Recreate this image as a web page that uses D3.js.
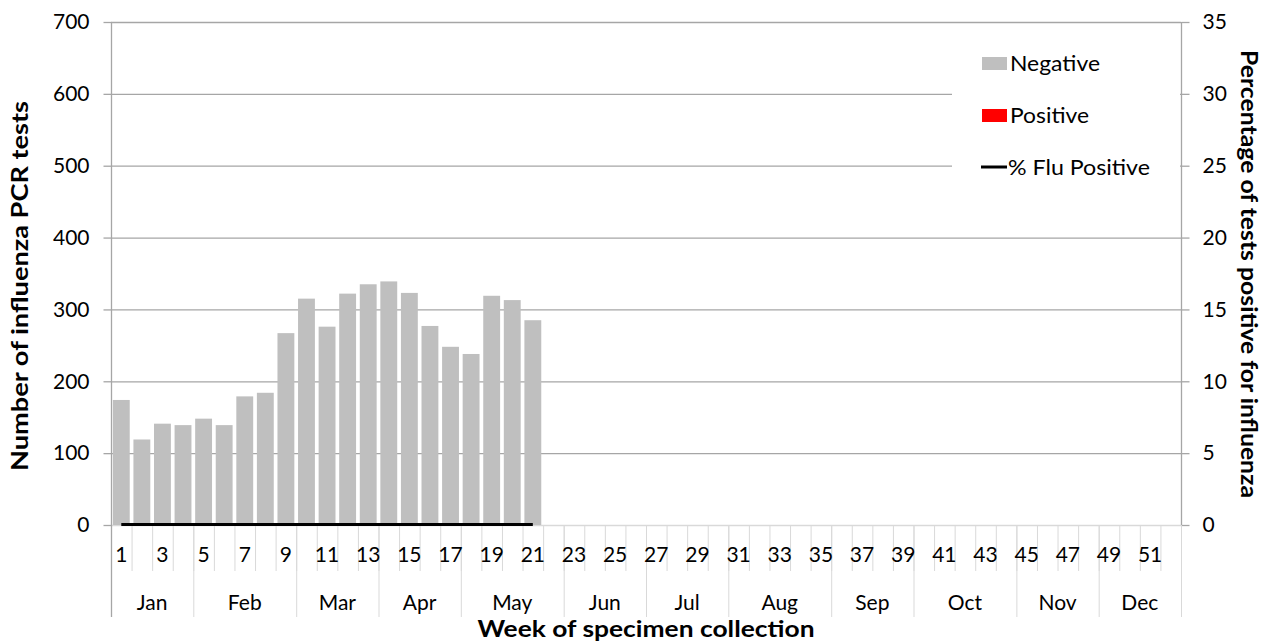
<!DOCTYPE html>
<html>
<head>
<meta charset="utf-8">
<script src="https://cdn.jsdelivr.net/npm/d3@7"></script>
<style>
  html, body { margin: 0; padding: 0; background: #fff; }
  svg { display: block; }
  text { font-family: Lato, "Open Sans", sans-serif; fill: #000; }
</style>
</head>
<body>
<svg id="chart" width="1268" height="641"></svg>
<script>
// ---- data ----
const weeks = d3.range(1, 53);
const negative = [174, 119, 141, 139, 148, 139, 179, 184, 267, 315, 276, 322, 335, 339, 323, 277, 248, 238, 319, 313, 285];
const positive = [0, 0, 0, 0, 0, 0, 0, 0, 0, 0, 0, 0, 0, 0, 0, 0, 0, 0, 0, 0, 0];
const pctPositive = [0, 0, 0, 0, 0, 0, 0, 0, 0, 0, 0, 0, 0, 0, 0, 0, 0, 0, 0, 0, 0];
const weekLabels = weeks.filter(w => w % 2 === 1);
const monthNames = ["Jan","Feb","Mar","Apr","May","Jun","Jul","Aug","Sep","Oct","Nov","Dec"];
const monthStartWeeks = [1, 5, 10, 14, 18, 23, 27, 31, 36, 40, 45, 49];
const leftTicks = [0, 100, 200, 300, 400, 500, 600, 700];
const rightTicks = [0, 5, 10, 15, 20, 25, 30, 35];

// ---- layout ----
const L = 111, R = 1181, T = 22, B = 525;
const svg = d3.select("#chart");
const gridColor = "#a6a6a6", axisColor = "#a6a6a6", lightColor = "#d9d9d9";
const FS = 21;

const x = d3.scaleBand().domain(weeks).range([L, R]).padding(0);
const xBar = d3.scaleBand().domain(weeks).range([L, R]).paddingInner(0.18).paddingOuter(0.09);
const y = d3.scaleLinear().domain([0, 700]).range([B, T]);
const y2 = d3.scaleLinear().domain([0, 35]).range([B, T]);

// gridlines
svg.append("g").selectAll("line").data(leftTicks.filter(d => d > 0)).join("line")
  .attr("x1", L).attr("x2", R)
  .attr("y1", d => y(d) + 0.5).attr("y2", d => y(d) + 0.5)
  .attr("stroke", gridColor).attr("stroke-width", 1.3);

// week separators
const bottomRows = svg.append("g");
bottomRows.selectAll("line.wk").data(weeks.slice(1)).join("line").attr("class", "wk")
  .attr("x1", d => x(d) + 0.5).attr("x2", d => x(d) + 0.5)
  .attr("y1", B).attr("y2", 571)
  .attr("stroke", lightColor).attr("stroke-width", 1);
// month separators
const monthBounds = monthStartWeeks.concat([53]);
bottomRows.selectAll("line.mo").data(monthBounds).join("line").attr("class", "mo")
  .attr("x1", d => (d === 53 ? R : x(d)) + 0.5).attr("x2", d => (d === 53 ? R : x(d)) + 0.5)
  .attr("y1", B).attr("y2", 617)
  .attr("stroke", lightColor).attr("stroke-width", 1);
// x baseline
svg.append("line").attr("x1", L).attr("x2", R).attr("y1", B + 0.5).attr("y2", B + 0.5)
  .attr("stroke", lightColor).attr("stroke-width", 1.3);

// bars
const barData = negative.map((v, i) => ({ week: weeks[i], neg: v, pos: positive[i] }));
svg.append("g").selectAll("rect.neg").data(barData).join("rect").attr("class", "neg")
  .attr("x", d => xBar(d.week))
  .attr("width", xBar.bandwidth())
  .attr("y", d => y(d.neg + d.pos))
  .attr("height", d => y(d.pos) - y(d.neg + d.pos))
  .attr("fill", "#bfbfbf");
svg.append("g").selectAll("rect.pos").data(barData.filter(d => d.pos > 0)).join("rect").attr("class", "pos")
  .attr("x", d => xBar(d.week))
  .attr("width", xBar.bandwidth())
  .attr("y", d => y(d.pos))
  .attr("height", d => y(0) - y(d.pos))
  .attr("fill", "#ff0000");

// % positive line
const lineData = pctPositive.map((v, i) => ({ week: weeks[i], v }));
svg.append("path").datum(lineData)
  .attr("d", d3.line().x(d => x(d.week) + x.bandwidth() / 2).y(d => y2(d.v) - 0.5))
  .attr("fill", "none").attr("stroke", "#000").attr("stroke-width", 3);

// left axis
const gL = svg.append("g").attr("transform", `translate(${L + 0.5},0)`)
  .call(d3.axisLeft(y).tickValues(leftTicks).tickSize(8).tickPadding(14).tickFormat(d3.format("d")));
gL.select(".domain").remove();
gL.selectAll(".tick line").attr("stroke", axisColor).attr("stroke-width", 1.3);
gL.selectAll("text").attr("font-size", FS).attr("font-family", "Lato, sans-serif").attr("fill", "#000");
svg.append("line").attr("x1", L + 0.5).attr("x2", L + 0.5).attr("y1", T).attr("y2", 617)
  .attr("stroke", axisColor).attr("stroke-width", 1.3);

// right axis
const gR = svg.append("g").attr("transform", `translate(${R + 0.5},0)`)
  .call(d3.axisRight(y2).tickValues(rightTicks).tickSize(8).tickPadding(13).tickFormat(d3.format("d")));
gR.select(".domain").remove();
gR.selectAll(".tick line").attr("stroke", axisColor).attr("stroke-width", 1.3);
gR.selectAll("text").attr("font-size", FS).attr("font-family", "Lato, sans-serif").attr("fill", "#000");
svg.append("line").attr("x1", R + 0.5).attr("x2", R + 0.5).attr("y1", T).attr("y2", B)
  .attr("stroke", axisColor).attr("stroke-width", 1.3);
svg.append("line").attr("x1", R + 0.5).attr("x2", R + 0.5).attr("y1", B).attr("y2", 617)
  .attr("stroke", lightColor).attr("stroke-width", 1);

// legend box
svg.append("rect").attr("x", 952).attr("y", 45).attr("width", 228).attr("height", 145).attr("fill", "#fff");
const legend = svg.append("g");
legend.append("rect").attr("x", 982).attr("y", 57).attr("width", 25).attr("height", 13).attr("fill", "#bfbfbf");
legend.append("text").attr("x", 1010).attr("y", 64).attr("dy", "0.35em").attr("font-size", FS)
  .attr("textLength", 90).attr("lengthAdjust", "spacingAndGlyphs").text("Negative");
legend.append("rect").attr("x", 982).attr("y", 109).attr("width", 25).attr("height", 13).attr("fill", "#ff0000");
legend.append("text").attr("x", 1010).attr("y", 116).attr("dy", "0.35em").attr("font-size", FS)
  .attr("textLength", 79).attr("lengthAdjust", "spacingAndGlyphs").text("Positive");
legend.append("line").attr("x1", 981).attr("x2", 1007).attr("y1", 167).attr("y2", 167).attr("stroke", "#000").attr("stroke-width", 3);
legend.append("text").attr("x", 1008).attr("y", 168).attr("dy", "0.35em").attr("font-size", FS)
  .attr("textLength", 142).attr("lengthAdjust", "spacingAndGlyphs").text("% Flu Positive");

// week labels
svg.append("g").selectAll("text").data(weekLabels).join("text")
  .attr("x", d => x(d) + x.bandwidth() / 2).attr("y", 555).attr("dy", "0.35em")
  .attr("text-anchor", "middle").attr("font-size", FS).text(d => d);

// month labels
svg.append("g").selectAll("text").data(monthNames).join("text")
  .attr("x", (d, i) => {
    const a = x(monthBounds[i]);
    const b = monthBounds[i + 1] === 53 ? R : x(monthBounds[i + 1]);
    return (a + b) / 2;
  })
  .attr("y", 603).attr("dy", "0.35em")
  .attr("text-anchor", "middle").attr("font-size", FS).text(d => d);

// axis titles
svg.append("text").attr("x", 646).attr("y", 629).attr("dy", "0.35em")
  .attr("text-anchor", "middle").attr("font-size", 22).attr("font-weight", "bold")
  .attr("textLength", 337).attr("lengthAdjust", "spacingAndGlyphs")
  .text("Week of specimen collection");
svg.append("text").attr("transform", `translate(20,286) rotate(-90)`)
  .attr("dy", "0.35em").attr("text-anchor", "middle").attr("font-size", 22).attr("font-weight", "bold")
  .attr("textLength", 370).attr("lengthAdjust", "spacingAndGlyphs")
  .text("Number of influenza PCR tests");
svg.append("text").attr("transform", `translate(1249,274) rotate(90)`)
  .attr("dy", "0.35em").attr("text-anchor", "middle").attr("font-size", 22).attr("font-weight", "bold")
  .attr("textLength", 448).attr("lengthAdjust", "spacingAndGlyphs")
  .text("Percentage of tests positive for influenza");
</script>
</body>
</html>
